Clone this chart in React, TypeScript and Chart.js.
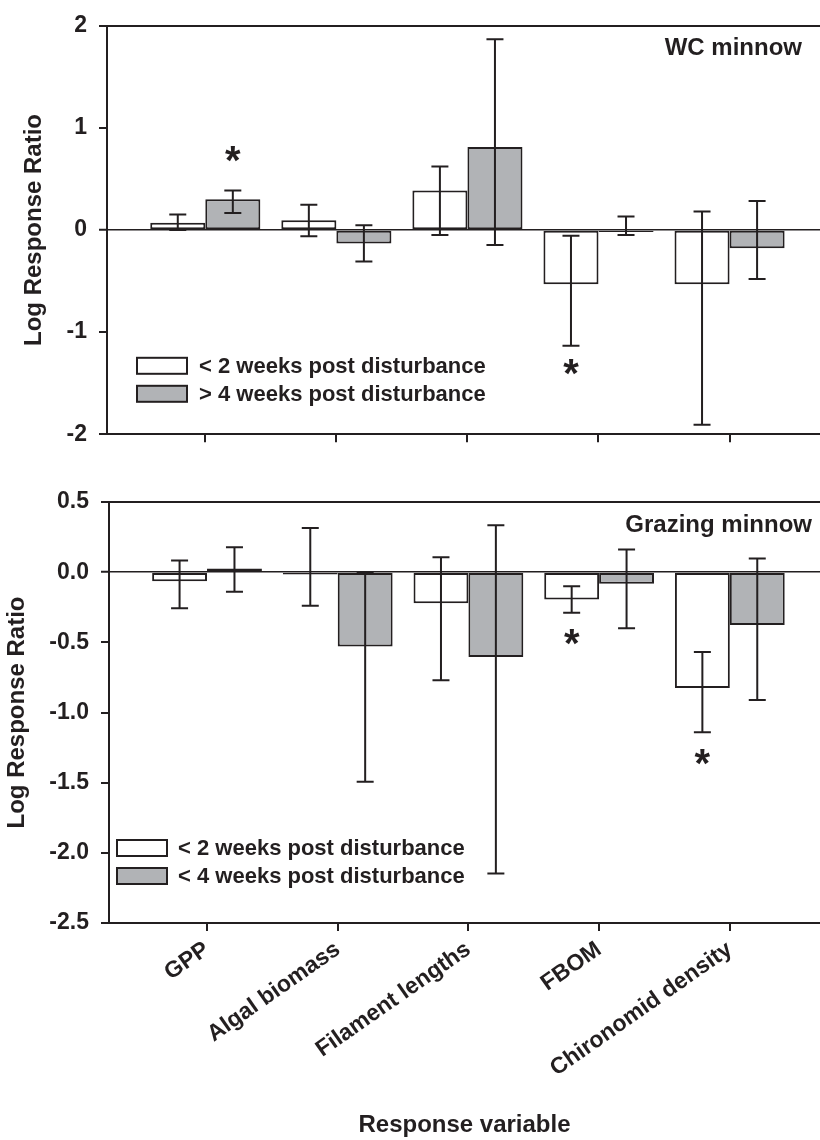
import React, { useEffect, useRef } from 'react';
import { Chart, registerables } from 'chart.js';

Chart.register(...registerables);

const INK = '#231f20';
const GRAY = '#b1b3b6';
const FONT = '"Liberation Sans", Arial, Helvetica, sans-serif';

const CATEGORIES = ['GPP', 'Algal biomass', 'Filament lengths', 'FBOM', 'Chironomid density'];
const X_MIN = -0.75;
const X_MAX = 4.69;

// ---- Top panel: WC minnow ----
const WC_LABELS = ['< 2 weeks post disturbance', '> 4 weeks post disturbance'];
const WC_SHORT = [0.07, 0.095, 0.386, -0.532, -0.532];
const WC_SHORT_LO = [0.0, -0.06, -0.048, -1.134, -1.907];
const WC_SHORT_HI = [0.152, 0.247, 0.623, -0.057, 0.18];
const WC_LONG = [0.3, -0.133, 0.813, -0.02, -0.178];
const WC_LONG_LO = [0.167, -0.308, -0.146, -0.048, -0.479];
const WC_LONG_HI = [0.386, 0.047, 1.868, 0.133, 0.285];
const WC_TICKS = [-2, -1, 0, 1, 2];
const WC_STAR_SERIES = [1, 0];
const WC_STAR_CAT = [0, 3];
const WC_STAR_Y = [0.745, -1.346];

// ---- Bottom panel: Grazing minnow ----
const GR_LABELS = ['< 2 weeks post disturbance', '< 4 weeks post disturbance'];
const GR_SHORT = [-0.064, -0.017, -0.222, -0.194, -0.826];
const GR_SHORT_LO = [-0.258, -0.239, -0.77, -0.289, -1.141];
const GR_SHORT_HI = [0.083, 0.315, 0.107, -0.1, -0.568];
const GR_LONG = [0.026, -0.53, -0.604, -0.083, -0.376];
const GR_LONG_LO = [-0.139, -1.494, -2.147, -0.4, -0.911];
const GR_LONG_HI = [0.178, 0.0, 0.334, 0.161, 0.097];
const GR_TICKS = [-2.5, -2.0, -1.5, -1.0, -0.5, 0.0, 0.5];
const GR_STAR_SERIES = [0, 0];
const GR_STAR_CAT = [3, 4];
const GR_STAR_Y = [-0.46, -1.318];

type Spec = {
  name: string;
  labels: string[];
  short: number[]; shortLo: number[]; shortHi: number[];
  long: number[]; longLo: number[]; longHi: number[];
  ticks: number[]; decimals: number;
  starSeries: number[]; starCat: number[]; starY: number[];
  width: number; height: number;
  padTop: number; yWidth: number; xHeight: number; showX: boolean;
  yTitlePad: number;
  legendDx: number; legendDy: number; legendGap: number;
  nameRight: number; nameDy: number;
};

const SPECS: Spec[] = [
  {
    name: 'WC minnow', labels: WC_LABELS,
    short: WC_SHORT, shortLo: WC_SHORT_LO, shortHi: WC_SHORT_HI,
    long: WC_LONG, longLo: WC_LONG_LO, longHi: WC_LONG_HI,
    ticks: WC_TICKS, decimals: 0,
    starSeries: WC_STAR_SERIES, starCat: WC_STAR_CAT, starY: WC_STAR_Y,
    width: 820, height: 460, padTop: 19, yWidth: 107, xHeight: 20, showX: false,
    yTitlePad: 20, legendDx: 30, legendDy: 332, legendGap: 12, nameRight: 18, nameDy: 23,
  },
  {
    name: 'Grazing minnow', labels: GR_LABELS,
    short: GR_SHORT, shortLo: GR_SHORT_LO, shortHi: GR_SHORT_HI,
    long: GR_LONG, longLo: GR_LONG_LO, longHi: GR_LONG_HI,
    ticks: GR_TICKS, decimals: 1,
    starSeries: GR_STAR_SERIES, starCat: GR_STAR_CAT, starY: GR_STAR_Y,
    width: 820, height: 680, padTop: 42, yWidth: 109, xHeight: 217, showX: true,
    yTitlePad: 3, legendDx: 8, legendDy: 338, legendGap: 11, nameRight: 8, nameDy: 23,
  },
];

function Panel({ spec }: { spec: Spec }) {
  const ref = useRef<HTMLCanvasElement>(null);

  useEffect(() => {
    const canvas = ref.current;
    if (!canvas) return;
    const yMin = spec.ticks[0];
    const yMax = spec.ticks[spec.ticks.length - 1];
    const CAP = 8.5;

    const deco = {
      id: 'deco',
      afterDatasetsDraw(chart: any) {
        const { ctx, chartArea } = chart;
        const ys = chart.scales.y;
        ctx.save();
        // error bars
        ctx.strokeStyle = INK;
        ctx.lineWidth = 2;
        chart.data.datasets.forEach((ds: any, di: number) => {
          const meta = chart.getDatasetMeta(di);
          meta.data.forEach((bar: any, i: number) => {
            const lo = ys.getPixelForValue(ds.errLo[i]);
            const hi = ys.getPixelForValue(ds.errHi[i]);
            const x = bar.x;
            ctx.beginPath();
            ctx.moveTo(x, lo); ctx.lineTo(x, hi);
            ctx.moveTo(x - CAP, lo); ctx.lineTo(x + CAP, lo);
            ctx.moveTo(x - CAP, hi); ctx.lineTo(x + CAP, hi);
            ctx.stroke();
          });
        });
        // asterisks
        ctx.fillStyle = INK;
        ctx.font = `bold 40px ${FONT}`;
        ctx.textAlign = 'center';
        ctx.textBaseline = 'alphabetic';
        const m = ctx.measureText('*');
        const off = (m.actualBoundingBoxAscent - m.actualBoundingBoxDescent) / 2;
        spec.starY.forEach((v, k) => {
          const bar = chart.getDatasetMeta(spec.starSeries[k]).data[spec.starCat[k]];
          ctx.fillText('*', bar.x, ys.getPixelForValue(v) + off);
        });
        // legend
        const lx = chartArea.left + spec.legendDx;
        const ly = chartArea.top + spec.legendDy;
        ctx.font = `bold 22px ${FONT}`;
        ctx.textAlign = 'left';
        ctx.textBaseline = 'middle';
        chart.data.datasets.forEach((ds: any, di: number) => {
          const by = ly + di * 28;
          ctx.fillStyle = ds.backgroundColor;
          ctx.fillRect(lx, by, 50, 16);
          ctx.strokeStyle = INK;
          ctx.lineWidth = 2;
          ctx.strokeRect(lx, by, 50, 16);
          ctx.fillStyle = INK;
          ctx.fillText(ds.label, lx + 50 + spec.legendGap, by + 9);
        });
        // panel name
        ctx.font = `bold 24px ${FONT}`;
        ctx.textAlign = 'right';
        ctx.fillText(spec.name, chartArea.right - spec.nameRight, chartArea.top + spec.nameDy);
        ctx.restore();
      },
    };

    const chart = new Chart(canvas, {
      type: 'bar',
      data: {
        datasets: [
          {
            label: spec.labels[0],
            data: spec.short.map((v, i) => ({ x: i, y: v })),
            backgroundColor: '#ffffff',
            borderColor: INK,
            borderWidth: 2,
            borderSkipped: false,
            errLo: spec.shortLo,
            errHi: spec.shortHi,
          } as any,
          {
            label: spec.labels[1],
            data: spec.long.map((v, i) => ({ x: i, y: v })),
            backgroundColor: GRAY,
            borderColor: INK,
            borderWidth: 2,
            borderSkipped: false,
            errLo: spec.longLo,
            errHi: spec.longHi,
          } as any,
        ],
      },
      options: {
        responsive: false,
        animation: false,
        events: [],
        layout: { padding: { top: spec.padTop, left: 0, right: 0, bottom: 0 } },
        datasets: { bar: { categoryPercentage: 0.84, barPercentage: 1 } },
        plugins: { legend: { display: false }, tooltip: { enabled: false } },
        scales: {
          x: {
            type: 'linear',
            min: X_MIN,
            max: X_MAX,
            offset: false,
            afterBuildTicks: (s: any) => {
              s.ticks = CATEGORIES.map((_, i) => ({ value: i }));
            },
            afterFit: (s: any) => {
              s.height = spec.xHeight;
              s.paddingLeft = 0;
              s.paddingRight = 0;
            },
            grid: {
              display: true,
              offset: false,
              drawOnChartArea: false,
              drawTicks: true,
              tickLength: 8,
              tickColor: INK,
              tickWidth: 2,
              lineWidth: 2,
              color: INK,
            },
            border: { display: true, color: INK, width: 2 },
            ticks: {
              display: spec.showX,
              autoSkip: false,
              minRotation: 35,
              maxRotation: 35,
              padding: 5,
              color: INK,
              font: { family: FONT, size: 23, weight: 'bold' },
              callback: (v: any) => CATEGORIES[Math.round(Number(v))] ?? '',
            },
            title: {
              display: spec.showX,
              text: 'Response variable',
              color: INK,
              font: { family: FONT, size: 24, weight: 'bold', lineHeight: 1.2 },
              padding: { top: 0, bottom: 0 },
            },
          },
          y: {
            type: 'linear',
            min: yMin,
            max: yMax,
            afterBuildTicks: (s: any) => {
              s.ticks = spec.ticks.map((v) => ({ value: v }));
            },
            afterFit: (s: any) => {
              s.width = spec.yWidth;
            },
            grid: {
              display: true,
              drawTicks: true,
              tickLength: 8,
              tickColor: INK,
              tickWidth: 2,
              color: (c: any) =>
                c.tick && (c.tick.value === 0 || c.tick.value === yMax) ? INK : 'rgba(0,0,0,0)',
              lineWidth: (c: any) => (c.tick && c.tick.value === 0 ? 1.5 : 2),
            },
            border: { display: true, color: INK, width: 2 },
            ticks: {
              padding: 12,
              color: INK,
              font: { family: FONT, size: 23, weight: 'bold' },
              callback: (v: any) => Number(v).toFixed(spec.decimals),
            },
            title: {
              display: true,
              text: 'Log Response Ratio',
              color: INK,
              font: { family: FONT, size: 24, weight: 'bold', lineHeight: 1.2 },
              padding: { top: spec.yTitlePad, bottom: 0 },
            },
          },
        },
      } as any,
      plugins: [deco],
    });
    return () => chart.destroy();
  }, [spec]);

  return (
    <canvas
      ref={ref}
      width={spec.width}
      height={spec.height}
      style={{ display: 'block', width: spec.width, height: spec.height }}
    />
  );
}

export default function App() {
  return (
    <div
      style={{
        position: 'absolute',
        left: 0,
        top: 0,
        width: 820,
        height: 1140,
        background: '#ffffff',
        overflow: 'hidden',
      }}
    >
      {SPECS.map((s) => (
        <Panel key={s.name} spec={s} />
      ))}
    </div>
  );
}
